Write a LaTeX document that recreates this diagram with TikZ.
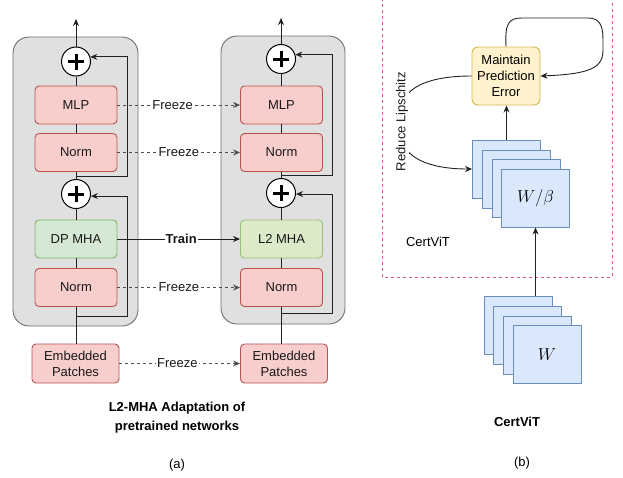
\documentclass[tikz,border=0pt]{standalone}
\usepackage{fontspec}
\setmainfont{Liberation Sans}
\usetikzlibrary{arrows.meta}
\definecolor{redF}{HTML}{F8CECC}
\definecolor{redD}{HTML}{B85450}
\definecolor{greenF}{HTML}{D5E8D4}
\definecolor{greenD}{HTML}{82B366}
\definecolor{limeF}{HTML}{DDEAC9}
\definecolor{limeD}{HTML}{97BF75}
\definecolor{yelF}{HTML}{FFF2CC}
\definecolor{yelD}{HTML}{D6B656}
\definecolor{bluF}{HTML}{DAE8FC}
\definecolor{bluD}{HTML}{6C8EBF}
\definecolor{contF}{HTML}{E0E0E0}
\definecolor{contD}{HTML}{707070}
\definecolor{pinkD}{HTML}{E0509A}
\definecolor{lineC}{HTML}{222222}
\begin{document}
\begin{tikzpicture}[x=1pt,y=-1pt,font=\fontsize{13}{15}\selectfont,
  container/.style={draw=contD,fill=contF,rounded corners=16pt,line width=0.9pt},
  box/.style={draw=redD,fill=redF,rounded corners=4pt,minimum width=82pt,minimum height=38pt,inner sep=0pt,line width=0.9pt,align=center,text=black!90},
  mhabox/.style={box,draw=greenD,fill=greenF},
  l2box/.style={box,draw=limeD,fill=limeF},
  embbox/.style={box,minimum width=87pt,minimum height=39pt,font=\fontsize{13}{16}\selectfont},
  plusc/.style={circle,draw=black,fill=white,minimum size=29pt,inner sep=0pt,line width=1pt,
    path picture={\draw[line width=3pt] ([xshift=-8pt]path picture bounding box.center) -- ([xshift=8pt]path picture bounding box.center);
                  \draw[line width=3pt] ([yshift=-8pt]path picture bounding box.center) -- ([yshift=8pt]path picture bounding box.center);}},
  conn/.style={draw=lineC,line width=0.9pt},
  arr/.style={conn,-{Stealth[length=7pt,width=6pt]}},
  freeze/.style={draw=lineC!80,line width=0.9pt,dash pattern=on 3pt off 3pt,-{Stealth[length=7pt,width=6pt]}},
  lbl/.style={fill=white,inner sep=1pt,text=black!90},
  blu/.style={draw=bluD,fill=bluF,minimum width=68pt,minimum height=58pt,inner sep=0pt,line width=0.9pt},
  yel/.style={draw=yelD,fill=yelF,rounded corners=6pt,minimum width=68pt,minimum height=58pt,inner sep=0pt,line width=0.9pt,align=center,font=\fontsize{13}{16}\selectfont}
]
\useasboundingbox (0,0) rectangle (623,477);
\fill[white] (0,0) rectangle (623,477);

% containers
\draw[container] (13,37) rectangle (138,326);
\draw[container] (221,36) rectangle (345,324);

% left column nodes
\node[plusc] (p1L) at (76,61.5) {};
\node[box] (mlpL) at (76,105) {MLP};
\node[box] (normAL) at (76,152.5) {Norm};
\node[plusc] (p2L) at (76,194) {};
\node[mhabox] (mhaL) at (76,239) {DP MHA};
\node[box] (normBL) at (76,287.5) {Norm};
\node[embbox] (embL) at (75.5,363.5) {Embedded\\Patches};
\coordinate (topL) at (76,19);
\coordinate (jAL) at (76,176);
\coordinate (jBL) at (76,316);

% right column nodes
\node[plusc] (p1R) at (281,59) {};
\node[box] (mlpR) at (281.5,105) {MLP};
\node[box] (normAR) at (281.5,152.5) {Norm};
\node[plusc] (p2R) at (281,193) {};
\node[l2box] (mhaR) at (281.5,239) {L2 MHA};
\node[box] (normBR) at (281.5,287.5) {Norm};
\node[embbox] (embR) at (284,363.5) {Embedded\\Patches};
\coordinate (topR) at (281,18);
\coordinate (jAR) at (281,175);
\coordinate (jBR) at (281,313);

% vertical chains
\draw[arr] (p1L.north) -- (topL);
\draw[conn] (p1L.south) -- (mlpL.north);
\draw[conn] (mlpL.south) -- (normAL.north);
\draw[conn] (normAL.south) -- (p2L.north);
\draw[conn] (p2L.south) -- (mhaL.north);
\draw[conn] (mhaL.south) -- (normBL.north);
\draw[conn] (normBL.south) -- (embL.north -| normBL.south);

\draw[arr] (p1R.north) -- (topR);
\draw[conn] (p1R.south) -- (p1R.south |- mlpR.north);
\draw[conn] (mlpR.south -| p1R.south) -- (p1R.south |- normAR.north);
\draw[conn] (normAR.south -| p1R.south) -- (p2R.north);
\draw[conn] (p2R.south) -- (p2R.south |- mhaR.north);
\draw[conn] (mhaR.south -| p2R.south) -- (p2R.south |- normBR.north);
\draw[conn] (normBR.south -| p2R.south) -- (p2R.south |- embR.north);

% skip connections
\draw[arr] (jAL) -- (127,176) |- (p1L.18);
\draw[arr] (jBL) -- (127,316) |- (p2L.-8);
\draw[arr] (jAR) -- (332,175) |- (p1R.17);
\draw[arr] (jBR) -- (332,313) |- (p2R.-4);

% cross connections
\draw[freeze] (mlpL) -- node[lbl,pos=0.45] {Freeze} (mlpR);
\draw[freeze] (normAL) -- node[lbl,pos=0.5] {Freeze} (normAR);
\draw[arr] (mhaL) -- node[lbl,pos=0.52,font=\fontsize{13}{15}\selectfont\bfseries] {Train} (mhaR);
\draw[freeze] (normBL) -- node[lbl,pos=0.5] {Freeze} (normBR);
\draw[freeze] (embL) -- node[lbl,pos=0.48] {Freeze} (embR);

% captions (a)
\node[font=\fontsize{13}{19}\selectfont\bfseries,align=center] (capA) at (177,417.5) {L2-MHA Adaptation of\\pretrained networks};
\node (labA) at (177,465) {(a)};

% right panel
\draw[draw=pinkD,line width=1pt,dash pattern=on 3pt off 3pt] (382,-2) -- (382,277) -- (612,277) -- (612,-2);

\node[yel] (ye) at (506,76) {Maintain\\Prediction\\Error};

\node[blu] (u1) at (506.5,169) {};
\node[blu] (u2) at (516.5,179) {};
\node[blu] (u3) at (526.5,188.5) {};
\node[blu] (u4) at (535.5,198) {\fontsize{16}{18}\selectfont$W/\beta$};

\node[blu] (l1) at (518,325) {};
\node[blu] (l2) at (527.5,335) {};
\node[blu] (l3) at (537.5,345) {};
\node[blu] (l4) at (547,354.5) {\fontsize{16}{18}\selectfont$W$};

\draw[arr] (u1.north) -- (ye.south -| u1.north);
\draw[arr] (u4.south |- l1.north) -- (u4.south);
\draw[arr] (ye.north) .. controls (505,24) and (508,18) .. (522,18) -- (588,18)
  .. controls (600,18) and (603,26) .. (603,40) -- (603,50)
  .. controls (603,68) and (590,74) .. (ye.east);
\draw[arr] (ye.west) .. controls (432,76) and (402,86) .. (402,110) -- (402,135)
  .. controls (402,158) and (430,169) .. (u1.west);
\node[lbl,rotate=90,inner sep=0.5pt] (rl) at (402,121.5) {Reduce Lipschitz};

\node (cv) at (428,242) {CertViT};
\node[font=\fontsize{13}{15}\selectfont\bfseries] (capB) at (517,422) {CertViT};
\node (labB) at (522,463) {(b)};
\end{tikzpicture}
\end{document}
